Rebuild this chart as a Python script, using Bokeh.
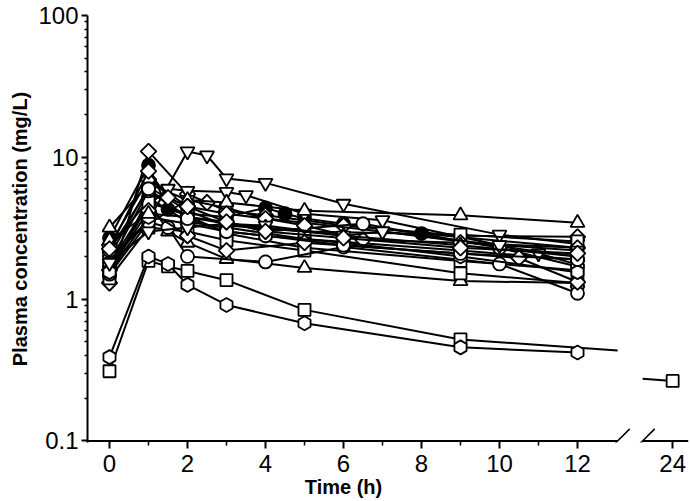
import math
import numpy as np
from bokeh.plotting import figure
from bokeh.models import Range1d, FixedTicker, Arrow
from bokeh.embed import file_html
from bokeh.resources import INLINE

# ---------------- data (time in h, concentration in mg/L) ----------------
s01_t = [0, 1, 1.5, 2, 3, 4, 4.5, 5, 6, 8, 12]
s01_c = [2.7, 8.8, 4.3, 4.0, 3.8, 4.4, 4.0, 3.7, 3.4, 2.9, 2.3]
s02_t = [0, 1, 2, 3, 5, 9, 12]
s02_c = [1.45, 5.2, 3.5, 3.2, 2.65, 2.2, 1.9]
s03_t = [0, 1, 2, 2.5, 3, 4, 6, 9, 12]
s03_c = [1.3, 11.0, 5.5, 4.8, 4.2, 3.9, 3.3, 2.8, 2.75]
s04_t = [0, 1, 2, 2.5, 3, 4, 6, 10, 12]
s04_c = [1.9, 3.6, 11.0, 10.3, 7.1, 6.6, 4.7, 2.85, 2.45]
s05_t = [0, 1, 1.5, 2, 3, 3.5, 5, 7, 11, 12]
s05_c = [1.6, 4.6, 6.0, 5.8, 5.7, 5.4, 4.0, 3.6, 2.1, 1.75]
s06_t = [0, 1, 2, 3, 4, 7, 12]
s06_c = [2.0, 3.4, 5.0, 4.4, 3.7, 3.0, 2.0]
s07_t = [0, 1, 2, 3, 5, 9, 12]
s07_c = [3.2, 6.5, 5.0, 4.8, 4.2, 3.9, 3.45]
s08_t = [0, 1, 1.5, 2, 3, 5, 9, 12]
s08_c = [2.3, 5.0, 3.0, 2.5, 1.92, 1.66, 1.34, 1.3]
s09_t = [0, 1, 2, 3, 5, 9, 12]
s09_c = [2.0, 6.2, 4.2, 3.3, 3.0, 2.85, 2.55]
s10_t = [0, 1, 2, 3, 5, 9, 12]
s10_c = [1.75, 4.8, 3.9, 2.9, 2.3, 1.86, 1.6]
s11_t = [0, 1, 2, 3, 5, 9, 12]
s11_c = [1.4, 3.2, 3.0, 2.6, 2.2, 1.52, 1.3]
s12_t = [0, 1, 2, 3, 4, 6.5, 10, 12]
s12_c = [1.8, 5.8, 3.8, 3.5, 3.0, 3.4, 2.3, 1.7]
s13_t = [0, 1, 1.5, 2, 4, 6, 10, 12]
s13_c = [1.5, 3.5, 3.2, 2.0, 1.83, 2.33, 1.77, 1.1]
s14_t = [0, 1, 2, 3, 4, 5, 6.5, 9, 12]
s14_c = [2.4, 7.0, 4.5, 4.0, 3.7, 3.3, 2.62, 2.5, 2.3]
s15_t = [0, 1, 2, 3, 5, 9, 10.5, 12]
s15_c = [1.6, 4.2, 2.8, 2.2, 2.5, 2.1, 1.95, 1.32]
s16_t = [0, 1, 2, 3, 4, 6, 9, 12]
s16_c = [1.55, 3.8, 3.4, 3.0, 2.8, 2.5, 2.0, 1.55]
s17_t = [0, 1, 2, 3, 4, 6, 9, 12]
s17_c = [2.6, 4.0, 3.8, 3.4, 3.2, 2.8, 2.4, 2.0]
s18_t = [0, 1, 2, 3, 4, 6, 7, 10, 12]
s18_c = [1.8, 3.0, 3.2, 3.4, 3.3, 2.8, 3.0, 2.4, 2.2]
s19_t = [0, 1, 1.5, 2, 3, 5, 9, 24]
s19_c = [0.31, 1.86, 1.7, 1.58, 1.36, 0.84, 0.52, 0.265]
s20_t = [0, 1, 1.5, 2, 3, 5, 9, 12]
s20_c = [0.39, 2.0, 1.77, 1.26, 0.91, 0.675, 0.457, 0.42]
s21_t = [0, 1, 2, 3, 4, 6, 9, 12]
s21_c = [2.2, 6.0, 3.7, 3.0, 2.8, 2.4, 2.1, 1.9]
s22_t = [0, 1, 1.5, 2, 3, 4, 6, 9, 12]
s22_c = [2.26, 8.0, 5.2, 4.5, 3.5, 3.0, 2.7, 2.3, 2.1]

x_tick_times = [0, 2, 4, 6, 8, 10, 12, 24]
x_minor_times = [1, 3, 5, 7, 9, 11]
y_ticks = [0.1, 1, 10, 100]
y_tick_labels = ["0.1", "1", "10", "100"]
x_title = "Time (h)"
y_title = "Plasma concentration (mg/L)"

series = [
    (s01_t, s01_c, "fc"), (s02_t, s02_c, "fc"), (s03_t, s03_c, "d"),
    (s04_t, s04_c, "v"), (s05_t, s05_c, "v"), (s06_t, s06_c, "v"),
    (s07_t, s07_c, "t"), (s08_t, s08_c, "t"), (s09_t, s09_c, "s"),
    (s10_t, s10_c, "s"), (s11_t, s11_c, "s"), (s12_t, s12_c, "c"),
    (s13_t, s13_c, "c"), (s14_t, s14_c, "d"), (s15_t, s15_c, "d"),
    (s16_t, s16_c, "h"), (s17_t, s17_c, "t"), (s18_t, s18_c, "v"),
    (s19_t, s19_c, "s"), (s20_t, s20_c, "h"), (s21_t, s21_c, "c"),
    (s22_t, s22_c, "d"),
]

# ---------------- broken time axis ----------------
BREAK_LEFT = 13.03     # time where the left part of the axis stops
BREAK_RIGHT = 23.23    # time where the right part of the axis starts
SHIFT = 9.56           # display position = time - SHIFT beyond the break
X_START, X_END = -0.564, 14.846
Y_START, Y_END = 0.0975, 100


def disp(t):
    return t if t <= 12.5 else t - SHIFT


def path(ts, cs):
    xs, ys = [], []
    for i, (t, c) in enumerate(zip(ts, cs)):
        if i > 0 and ts[i - 1] <= 12.5 < t:
            t0, c0 = ts[i - 1], cs[i - 1]

            def interp(tt):
                f = (tt - t0) / (t - t0)
                return 10 ** (math.log10(c0) + f * (math.log10(c) - math.log10(c0)))

            xs += [BREAK_LEFT, np.nan, disp(BREAK_RIGHT)]
            ys += [interp(BREAK_LEFT), np.nan, interp(BREAK_RIGHT)]
        xs.append(disp(t))
        ys.append(c)
    return np.array(xs, dtype=float), np.array(ys, dtype=float)


FONT = "Liberation Sans"
W, H = 690, 500

p = figure(width=W, height=H, y_axis_type="log",
           x_range=Range1d(X_START, X_END), y_range=Range1d(Y_START, Y_END),
           output_backend="svg", toolbar_location=None,
           min_border_left=87, min_border_right=2, min_border_top=15,
           min_border_bottom=0)
p.outline_line_color = None
p.grid.visible = False
p.background_fill_color = "white"

# y axis
ya = p.yaxis[0]
ya.ticker = FixedTicker(ticks=y_ticks,
                        minor_ticks=[m * d for d in (0.1, 1, 10) for m in range(2, 10)])
ya.major_label_overrides = {v: s for v, s in zip(y_ticks, y_tick_labels)}
ya.axis_line_width = 2
ya.axis_line_color = "black"
ya.major_tick_line_width = 2
ya.minor_tick_line_width = 1.5
ya.major_tick_in = 0
ya.major_tick_out = 6
ya.minor_tick_in = 0
ya.minor_tick_out = 3
ya.major_label_text_font = FONT
ya.major_label_text_font_size = "24px"
ya.major_label_text_color = "black"
ya.major_label_standoff = 3
ya.axis_label = y_title
ya.axis_label_text_font = FONT
ya.axis_label_text_font_size = "20px"
ya.axis_label_text_font_style = "bold"
ya.axis_label_text_color = "black"
ya.axis_label_standoff = 4

# x axis (line drawn separately to show the break)
xa = p.xaxis[0]
x_ticks = [disp(t) for t in x_tick_times]
xa.ticker = FixedTicker(ticks=x_ticks, minor_ticks=[disp(t) for t in x_minor_times])
xa.major_label_overrides = {disp(t): str(t) for t in x_tick_times}
xa.axis_line_color = None
xa.major_tick_line_width = 2
xa.minor_tick_line_width = 1.5
xa.major_tick_in = 2
xa.major_tick_out = 6
xa.minor_tick_in = 2
xa.minor_tick_out = 3
xa.major_label_text_font = FONT
xa.major_label_text_font_size = "24px"
xa.major_label_text_color = "black"
xa.major_label_standoff = 6
# the title sits under t = 6 h, left of the frame centre: pad it on the right
xa.axis_label = x_title + "\u00a0" * 16
xa.axis_label_text_font = FONT
xa.axis_label_text_font_size = "20px"
xa.axis_label_text_font_style = "bold"
xa.axis_label_text_color = "black"
xa.axis_label_standoff = 1

p.segment(x0=[X_START, disp(BREAK_RIGHT)], y0=[0.1, 0.1],
          x1=[BREAK_LEFT, X_END], y1=[0.1, 0.1], line_color="black", line_width=2)

dx = 0.31
dy = 10 ** 0.085
for xc in (BREAK_LEFT, disp(BREAK_RIGHT)):
    p.add_layout(Arrow(end=None, start=None, x_start=xc - dx, y_start=0.1 / dy,
                       x_end=xc + dx, y_end=0.1 * dy, line_width=1.5, line_color="black"))

STYLE = {
    "fc": dict(marker="circle", size=13, fill_color="black", angle=0),
    "c": dict(marker="circle", size=13, fill_color="white", angle=0),
    "s": dict(marker="square", size=12, fill_color="white", angle=0),
    "t": dict(marker="triangle", size=14, fill_color="white", angle=0),
    "v": dict(marker="inverted_triangle", size=14, fill_color="white", angle=0),
    "d": dict(marker="square", size=11, fill_color="white", angle=math.pi / 4),
    "h": dict(marker="hex", size=14, fill_color="white", angle=math.pi / 6),
}

for ts, cs, m in series:
    xs, ys = path(ts, cs)
    p.line(xs, ys, line_color="black", line_width=2)
    st = STYLE[m]
    p.scatter([disp(t) for t in ts], cs, marker=st["marker"], size=st["size"],
              angle=st["angle"], fill_color=st["fill_color"],
              line_color="black", line_width=1.8)

open("out.html", "w").write(file_html(p, INLINE))
